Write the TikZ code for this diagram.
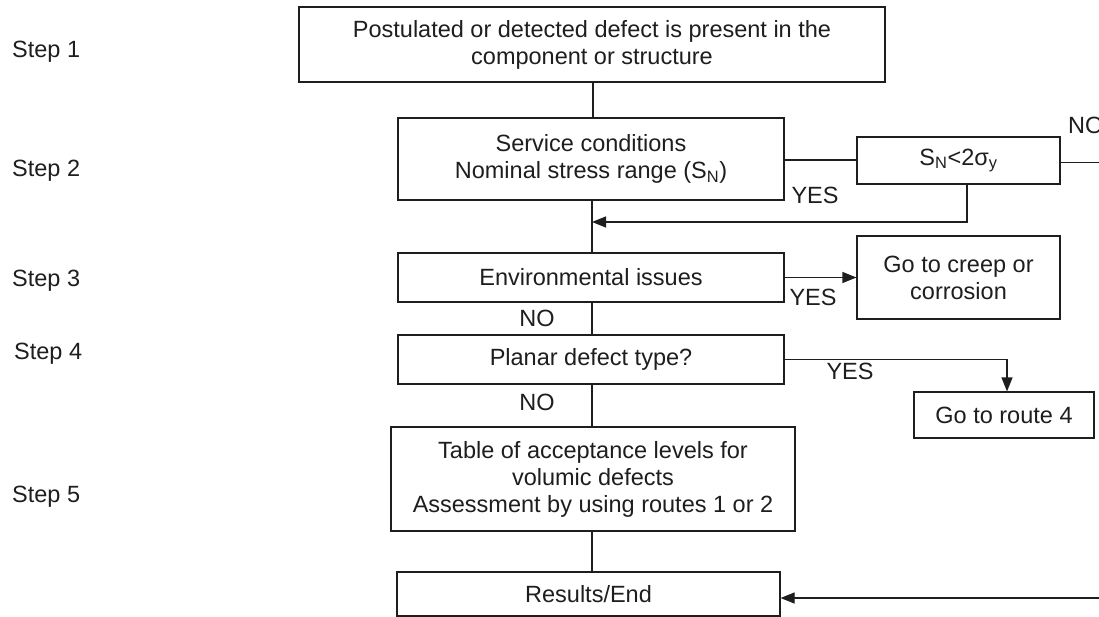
\documentclass[tikz,border=0pt]{standalone}
\usepackage{fontspec}
\setmainfont{Liberation Sans}
\usetikzlibrary{arrows.meta}
\definecolor{ink}{HTML}{1E1E1E}
\begin{document}
\begin{tikzpicture}[x=1pt,y=-1pt,
  every node/.style={font=\fontsize{23.5}{27}\selectfont, text=ink},
  stepbox/.style={draw=ink, line width=1.2pt, inner sep=0pt, align=center},
  wire/.style={draw=ink, line width=1.2pt},
  arrow/.style={wire, -{Triangle[length=14pt,width=11pt]}},
  lbl/.style={inner sep=0pt},
  steplbl/.style={inner sep=0pt, anchor=west}]
\useasboundingbox (0,0) rectangle (1099,617);
\fill[white] (0,0) rectangle (1099,617);

% step labels
\node[steplbl] (l1) at (12,52)  {Step 1};
\node[steplbl] (l2) at (12,171) {Step 2};
\node[steplbl] (l3) at (12,281) {Step 3};
\node[steplbl] (l4) at (14,354) {Step 4};
\node[steplbl] (l5) at (12,497) {Step 5};

% main column
\node[stepbox, minimum width=586pt, minimum height=75pt] (s1) at (592,44.5)
  {Postulated or detected defect is present in the\\component or structure};
\node[stepbox, minimum width=386pt, minimum height=82pt] (s2) at (591,159)
  {Service conditions\\Nominal stress range (S\textsubscript{N})};
\node[stepbox, minimum width=386pt, minimum height=49pt] (env) at (591,277.5)
  {Environmental issues};
\node[stepbox, minimum width=386pt, minimum height=49pt] (planar) at (591,359.5)
  {Planar defect type?};
\node[stepbox, minimum width=404pt, minimum height=104pt] (table) at (593,479)
  {Table of acceptance levels for\\volumic defects\\Assessment by using routes 1 or 2};
\node[stepbox, minimum width=383pt, minimum height=44pt] (res) at (588.5,594)
  {Results/End};

% side boxes
\node[stepbox, minimum width=203pt, minimum height=47pt] (sn) at (958.5,160.5)
  {S\textsubscript{N}<2σ\textsubscript{y}};
\node[stepbox, minimum width=203pt, minimum height=83pt] (creep) at (958.5,277.5)
  {Go to creep or\\corrosion};
\node[stepbox, minimum width=180pt, minimum height=46pt] (route) at (1004,415)
  {Go to route 4};

% spine connectors
\coordinate (j) at (592,222);
\coordinate (noEnd) at (1099,162.5);
\coordinate (back) at (1099,598);
\draw[wire] ([xshift=1pt]s1.south) -- ([xshift=1pt]s1.south |- s2.north);
\draw[wire] ([xshift=1pt]s2.south) -- ([xshift=1pt]s2.south |- env.north);
\draw[wire] ([xshift=1pt]env.south) -- ([xshift=1pt]env.south |- planar.north);
\draw[wire] ([xshift=1pt]planar.south) -- ([xshift=1pt]planar.south |- table.north);
\draw[wire] ([xshift=-1pt]table.south) -- ([xshift=-1pt]table.south |- res.north);

% branches
\draw[wire] ([yshift=-1pt]s2.east) -- ([yshift=-1pt]s2.east -| sn.west);
\draw[arrow] ([xshift=8.5pt]sn.south) |- (j);
\draw[wire] (sn.east |- noEnd) -- (noEnd);
\draw[arrow] (env.east) -- (creep.west);
\draw[arrow] (planar.east) -| ([xshift=3pt]route.north);
\draw[arrow] (back) -- (back -| res.east);

% branch labels
\node[lbl] (y1) at (815,195) {YES};
\node[lbl] (no1) at (1068,125) [anchor=west] {NO};
\node[lbl] (y2) at (813,297) {YES};
\node[lbl] (no2) at (537,318) {NO};
\node[lbl] (y3) at (850,371) {YES};
\node[lbl] (no3) at (537,402) {NO};
\end{tikzpicture}
\end{document}
